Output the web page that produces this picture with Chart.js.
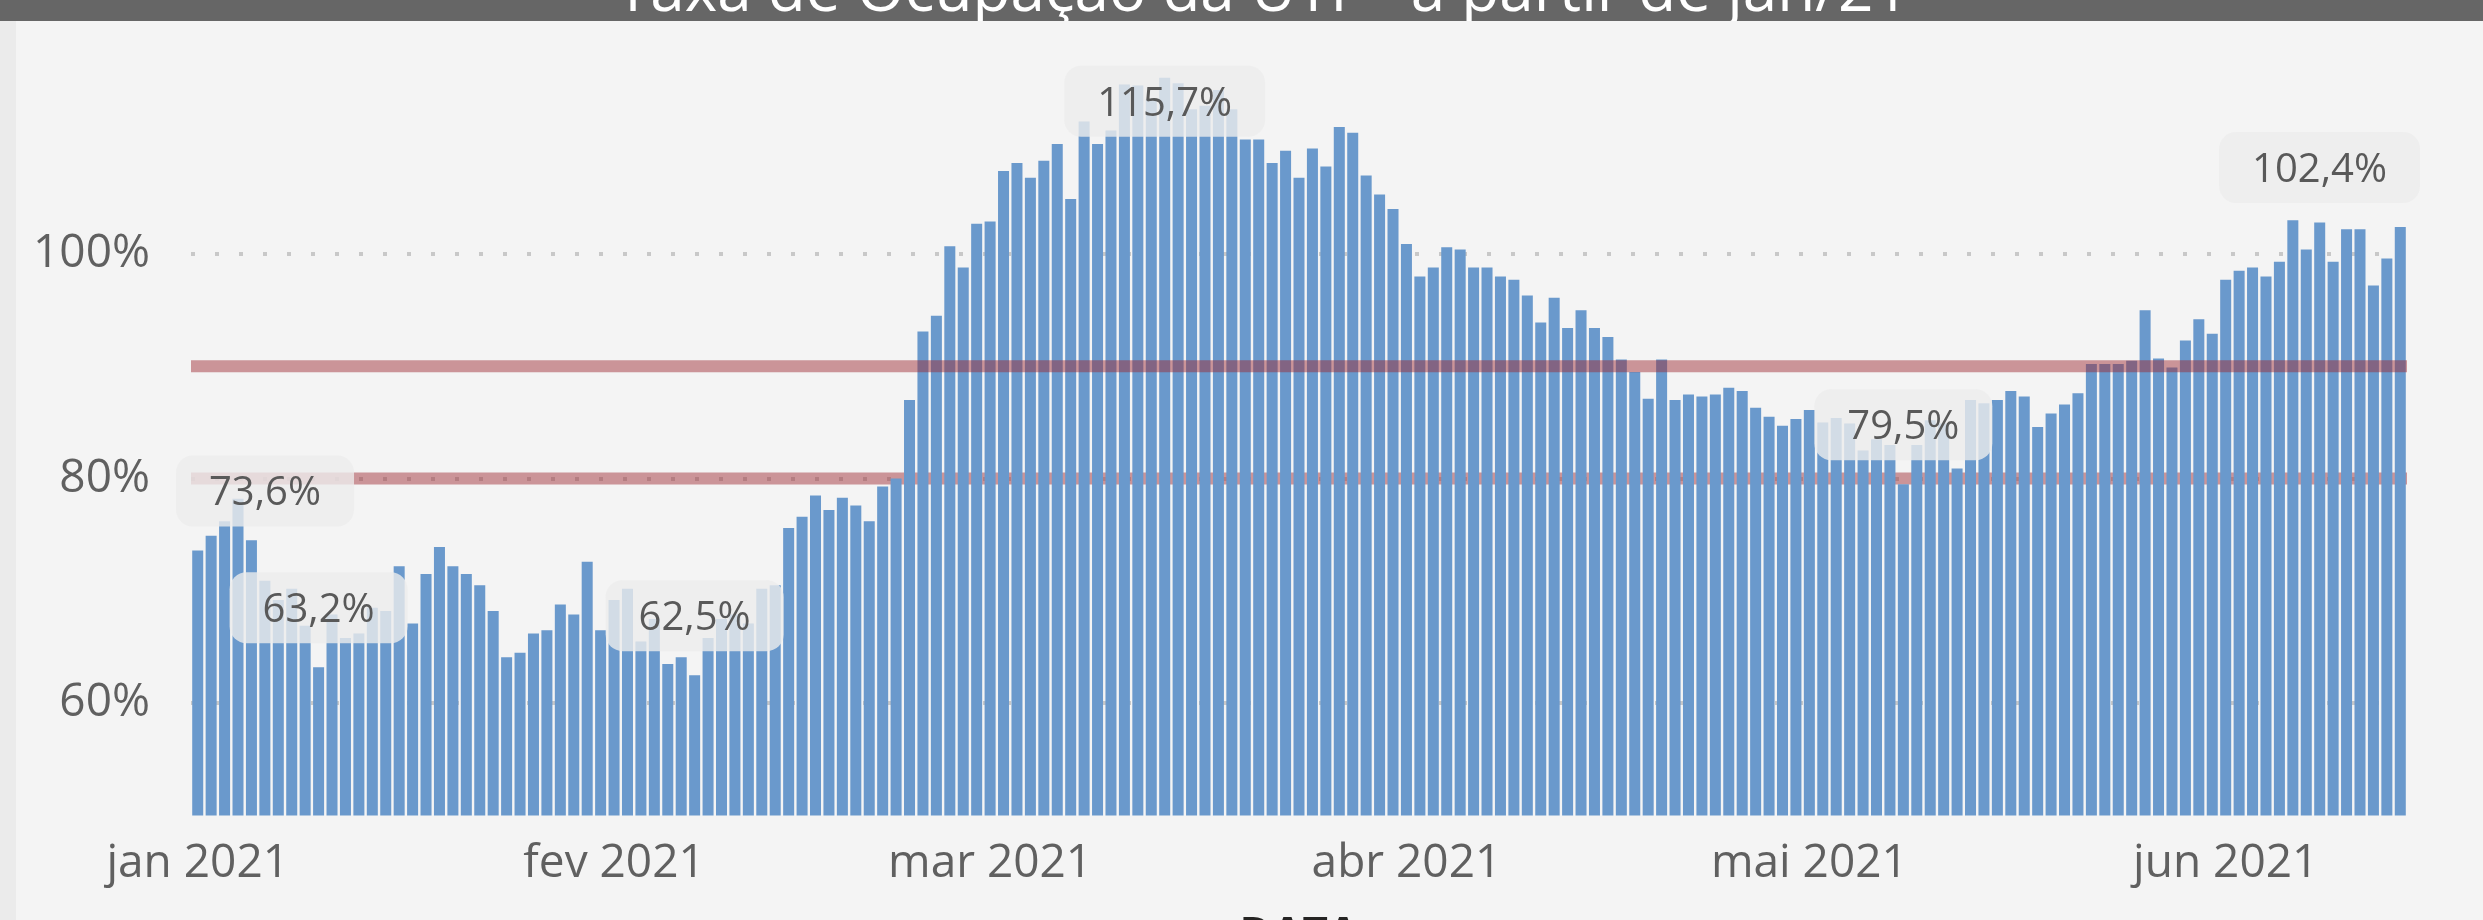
<!DOCTYPE html>
<html lang="pt-BR">
<head>
<meta charset="utf-8">
<title>Taxa de Ocupação da UTI</title>
<script src="https://cdn.jsdelivr.net/npm/chart.js@4.4.1/dist/chart.umd.min.js"></script>
<style>
  html, body { margin: 0; padding: 0; background: #f4f4f4; overflow: hidden; }
  body { width: 2483px; height: 920px; position: relative; font-family: "Segoe UI", "Open Sans", sans-serif; }
  #header { position: absolute; left: 0; top: 0; width: 2483px; height: 21px; background: #666666; overflow: hidden; }
  #header span { position: absolute; left: 21px; width: 100%; text-align: center; top: -44px;
                 font-size: 62px; line-height: 62px; color: #ffffff; white-space: nowrap; }
  #strip { position: absolute; left: 0; top: 21px; width: 16px; height: 899px; background: #ebebeb; }
  #myChart { position: absolute; left: 0; top: 0; }
</style>
</head>
<body>
<div id="header"><span>Taxa de Ocupação da UTI – a partir de jan/21</span></div>
<div id="strip"></div>
<canvas id="myChart" width="2483" height="920"></canvas>
<script>
// daily occupancy (%), 1 jan 2021 .. 14 jun 2021
const ocupacao = [
  // jan
  73.6, 74.9, 76.2, 78.2, 74.5, 70.9, 69.2, 70.2, 66.9, 63.2,
  67.9, 65.8, 66.2, 68.5, 68.2, 72.2, 67.1, 71.5, 73.9, 72.2,
  71.5, 70.5, 68.2, 64.1, 64.5, 66.2, 66.5, 68.8, 67.9, 72.6, 66.5,
  // fev
  69.2, 70.2, 65.5, 67.5, 63.5, 64.1, 62.5, 65.8, 67.5, 67.9,
  67.1, 70.2, 70.5, 75.6, 76.6, 78.5, 77.2, 78.3, 77.6, 76.2,
  79.3, 80.0, 87.0, 93.1, 94.5, 100.7, 98.8, 102.7,
  // mar
  102.9, 107.4, 108.1, 106.8, 108.3, 109.8, 104.9, 111.8, 109.8, 111.0,
  115.1, 115.0, 113.8, 115.7, 115.2, 112.9, 113.2, 114.6, 112.9, 110.2,
  110.2, 108.1, 109.2, 106.8, 109.4, 107.8, 111.3, 110.8, 107.0, 105.3, 104.0,
  // abr
  100.9, 98.0, 98.8, 100.6, 100.4, 98.8, 98.8, 98.0, 97.7, 96.3,
  93.9, 96.1, 93.4, 95.0, 93.4, 92.6, 90.6, 89.5, 87.1, 90.6,
  87.0, 87.5, 87.3, 87.5, 88.1, 87.8, 86.3, 85.5, 84.7, 85.3,
  // mai
  86.1, 85.0, 85.4, 84.9, 82.5, 83.5, 83.0, 79.5, 83.0, 85.2,
  84.9, 80.9, 87.0, 86.7, 87.0, 87.8, 87.3, 84.6, 85.8, 86.6,
  87.6, 90.2, 90.2, 90.2, 90.5, 95.0, 90.7, 89.9, 92.3, 94.2, 92.9,
  // jun
  97.7, 98.5, 98.8, 98.0, 99.3, 103.0, 100.4, 102.8, 99.3, 102.2,
  102.2, 97.2, 99.6, 102.4
];

const monthLabels = ['jan 2021', 'fev 2021', 'mar 2021', 'abr 2021', 'mai 2021', 'jun 2021'];
const monthStart = [0, 31, 59, 90, 120, 151];
const yTicks = [60, 80, 100];
const labelIdx = [0, 9, 37, 72, 127, 164];   // bars with a data label
const lowerLine = 80;
const upperLine = 90;

// one category per day
const dias = [];
for (let i = 0; i < ocupacao.length; i++) {
  const d = new Date(2021, 0, 1 + i);
  dias.push(d.toISOString().slice(0, 10));
}

const FONT = '"Segoe UI", "Open Sans", sans-serif';
const fmt = v => v.toFixed(1).replace('.', ',') + '%';

function hLine(chart, value) {
  const { ctx, chartArea } = chart;
  const y = chart.scales.y.getPixelForValue(value);
  ctx.save();
  ctx.strokeStyle = 'rgba(157, 40, 49, 0.47)';
  ctx.lineWidth = 12;
  ctx.beginPath();
  ctx.moveTo(chartArea.left, y);
  ctx.lineTo(chartArea.right, y);
  ctx.stroke();
  ctx.restore();
}

function roundBox(ctx, x, y, w, h, r) {
  ctx.beginPath();
  ctx.moveTo(x + r, y);
  ctx.arcTo(x + w, y, x + w, y + h, r);
  ctx.arcTo(x + w, y + h, x, y + h, r);
  ctx.arcTo(x, y + h, x, y, r);
  ctx.arcTo(x, y, x + w, y, r);
  ctx.closePath();
}

function drawLabels(chart) {
  const { ctx, chartArea } = chart;
  const meta = chart.getDatasetMeta(0);
  ctx.save();
  ctx.font = '40px ' + FONT;
  labelIdx.forEach(i => {
    const bar = meta.data[i];
    const text = fmt(ocupacao[i]);
    const w = ctx.measureText(text).width + 66;
    const h = 71;
    let top = bar.y - 24 - h;
    if (top < chartArea.top) top = bar.y - 12;
    let left = bar.x - w / 2;
    if (left < chartArea.left - 15) left = chartArea.left - 15;
    if (left + w > chartArea.right + 13) left = chartArea.right + 13 - w;
    ctx.fillStyle = 'rgba(236, 236, 236, 0.8)';
    roundBox(ctx, left, top, w, h, 17);
    ctx.fill();
    ctx.fillStyle = '#595959';
    ctx.textAlign = 'center';
    ctx.textBaseline = 'middle';
    ctx.fillText(text, left + w / 2, top + h / 2 + 3);
  });
  ctx.restore();
}

const refLines = {
  id: 'refLines',
  beforeDatasetsDraw(chart) { hLine(chart, lowerLine); },
  afterDatasetsDraw(chart) { hLine(chart, upperLine); drawLabels(chart); }
};

const chart = new Chart(document.getElementById('myChart').getContext('2d'), {
  type: 'bar',
  data: {
    labels: dias,
    datasets: [{
      label: 'Taxa de Ocupação',
      data: ocupacao,
      backgroundColor: '#6a99cc',
      barPercentage: 0.82,
      categoryPercentage: 1.0
    }]
  },
  options: {
    responsive: false,
    devicePixelRatio: 1,
    animation: false,
    layout: { padding: { top: 29.4, right: 76, left: 0, bottom: 0 } },
    plugins: { legend: { display: false }, tooltip: { enabled: false } },
    scales: {
      x: {
        offset: true,
        grid: { display: false, drawTicks: false },
        border: { display: false },
        afterFit: s => {
          s.height = 104.5;
          s.paddingLeft = 0; s.paddingRight = 0; s.paddingTop = 0; s.paddingBottom = 0;
        },
        ticks: {
          autoSkip: false,
          maxRotation: 0,
          padding: 21,
          color: '#606060',
          font: { family: FONT, size: 46 },
          callback: (v, i) => {
            const m = monthStart.indexOf(i);
            return m >= 0 ? monthLabels[m] : '';
          }
        },
        title: {
          display: true,
          text: 'DATA',
          color: '#252423',
          font: { family: FONT, size: 44, weight: 'bold' },
          padding: { top: 0, bottom: -43 }
        }
      },
      y: {
        min: 50,
        max: 120,
        afterFit: s => {
          s.width = 191;
          s.paddingLeft = 0; s.paddingRight = 0; s.paddingTop = 0; s.paddingBottom = 0;
        },
        afterBuildTicks: s => { s.ticks = yTicks.map(v => ({ value: v })); },
        grid: { color: '#c8c8c8', lineWidth: 4, drawTicks: false },
        border: { display: false, dash: [4, 20] },
        ticks: {
          padding: 41,
          color: '#606060',
          font: { family: FONT, size: 46 },
          callback: v => v + '%'
        }
      }
    }
  },
  plugins: [refLines]
});
</script>
</body>
</html>
